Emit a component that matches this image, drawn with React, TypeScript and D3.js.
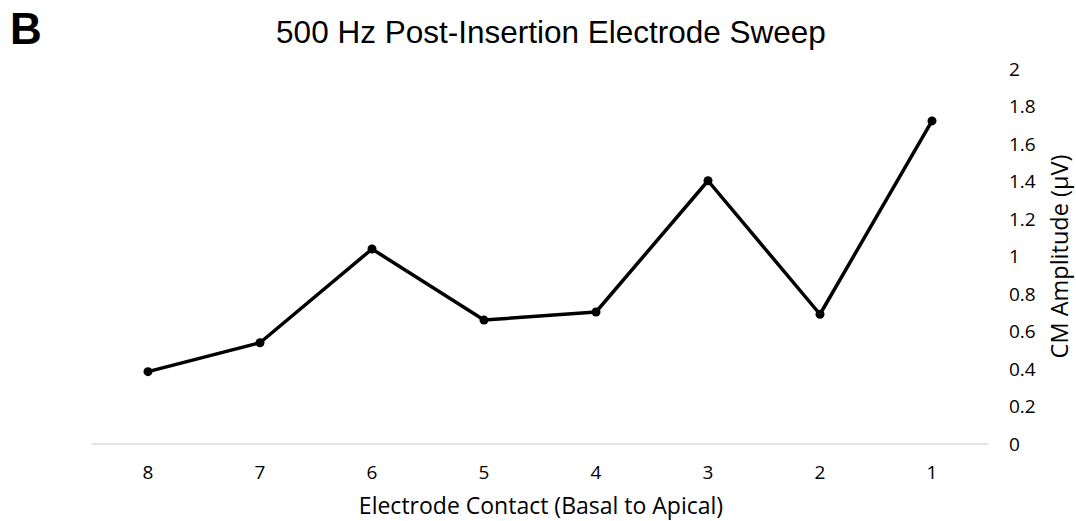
import React from "react";
import * as d3 from "d3";

const categories = ["8", "7", "6", "5", "4", "3", "2", "1"];
const values = [0.386, 0.54, 1.04, 0.661, 0.704, 1.404, 0.692, 1.723];
const yTicks = [0, 0.2, 0.4, 0.6, 0.8, 1, 1.2, 1.4, 1.6, 1.8, 2];
const title = "500 Hz Post-Insertion Electrode Sweep";
const panelLabel = "B";
const xTitle = "Electrode Contact (Basal to Apical)";
const yTitle = "CM Amplitude (µV)";

const W = 1076;
const H = 521;

export default function App() {
  const x = d3.scaleBand<string>().domain(categories).range([92, 988]);
  const y = d3.scaleLinear().domain([0, 2]).range([444, 69]);
  const cx = (c: string) => (x(c) as number) + x.bandwidth() / 2;
  const data = categories.map((c, i) => ({ c, v: values[i] }));
  const line = d3
    .line<{ c: string; v: number }>()
    .x((d) => cx(d.c))
    .y((d) => y(d.v));
  const sans = "'Open Sans', sans-serif";
  return (
    <svg
      width={W}
      height={H}
      style={{ position: "absolute", left: 0, top: 0, background: "#fff" }}
    >
      <text x={10} y={44} fontFamily="'Liberation Sans', Arial, sans-serif" fontWeight="bold" fontSize={44}>
        {panelLabel}
      </text>
      <text
        x={551}
        y={43}
        textAnchor="middle"
        fontFamily="'Liberation Sans', Arial, sans-serif"
        fontSize={31.5}
      >
        {title}
      </text>
      <line x1={92} x2={988} y1={y(0)} y2={y(0)} stroke="#d9d9d9" strokeWidth={1.5} />
      {yTicks.map((t) => (
        <text key={t} x={1009} y={y(t)} dy="0.36em" fontFamily={sans} fontSize={19} fill="#000">
          {String(t)}
        </text>
      ))}
      {categories.map((c) => (
        <text key={c} x={cx(c)} y={479} textAnchor="middle" fontFamily={sans} fontSize={19} fill="#000">
          {c}
        </text>
      ))}
      <text x={541} y={514} textAnchor="middle" fontFamily={sans} fontSize={23}>
        {xTitle}
      </text>
      <text
        transform={`translate(1068, ${(y(0) + y(2)) / 2}) rotate(-90)`}
        textAnchor="middle"
        fontFamily={sans}
        fontSize={23.5}
      >
        {yTitle}
      </text>
      <path d={line(data) || ""} fill="none" stroke="#000" strokeWidth={3.5} strokeLinejoin="round" />
      {data.map((d) => (
        <circle key={d.c} cx={cx(d.c)} cy={y(d.v)} r={4.5} fill="#000" />
      ))}
    </svg>
  );
}
